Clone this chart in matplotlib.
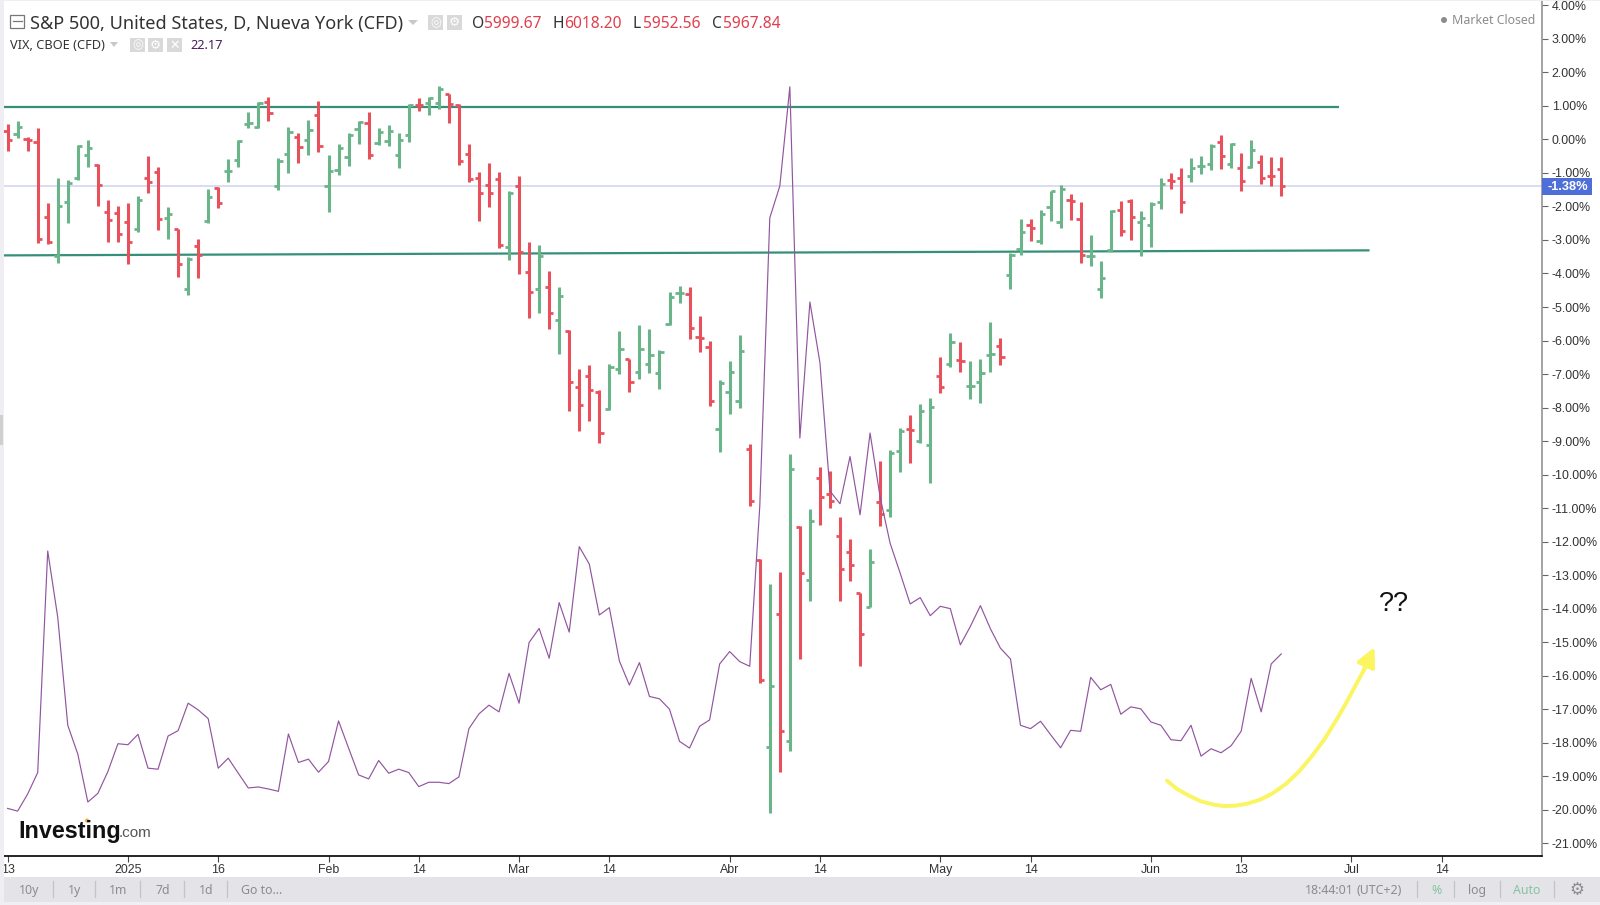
import numpy as np
import matplotlib
matplotlib.use("Agg")
import matplotlib.pyplot as plt
from matplotlib.patches import Rectangle, Polygon, Circle

# daily bars in percent
open_vals = [0.26, 0.16, 0.00, -0.09, -2.30, -3.47, -1.87, -1.15, -0.46, -0.75,
             -2.17, -2.20, -2.47, -2.67, -1.16, -0.98, -2.34, -2.68, -4.47, -3.19,
             -2.44, -1.46, -0.94, -0.62, 0.45, 0.38, 1.11, -1.39, -0.43, 0.06,
             -0.03, 0.73, -1.39, -0.91, -0.53, 0.32, 0.49, -0.11, -0.05, -0.47,
             0.13, 1.03, 1.10, 1.08, 1.36, 1.04, -0.43, -1.16, -1.36, -1.18,
             -3.22, -1.39, -3.97, -4.47, -4.39, -5.38, -5.71, -7.39, -7.07, -7.55,
             -8.05, -6.86, -6.56, -6.94, -6.71, -6.98, -5.51, -4.57, -4.62, -5.89,
             -6.18, -8.65, -7.53, -7.79, -9.24, -12.55, -18.13, -14.15, -17.94, -11.55,
             -13.14, -10.09, -10.58, -11.83, -12.32, -13.53, -13.94, -10.83, -11.07, -9.29,
             -8.65, -9.00, -9.12, -7.07, -6.71, -6.58, -7.36, -7.23, -6.42, -6.15,
             -4.04, -3.28, -2.56, -3.02, -2.03, -2.46, -1.80, -2.36, -3.47, -4.46,
             -3.30, -2.12, -1.83, -2.47, -2.56, -1.87, -1.22, -1.14, -1.09, -0.79,
             -0.72, -0.07, -0.73, -0.86, -0.83, -0.67, -1.08, -0.89]
high_vals = [0.46, 0.56, 0.08, 0.33, -1.90, -1.16, -1.21, -0.16, -0.03, -0.73,
             -1.81, -2.00, -1.90, -1.68, -0.49, -0.83, -2.03, -2.67, -3.52, -2.97,
             -1.48, -1.41, -0.59, -0.01, 0.81, 1.11, 1.28, -0.56, 0.38, 0.18,
             0.58, 1.15, -0.46, -0.14, 0.18, 0.55, 0.81, 0.35, 0.42, 0.18,
             1.06, 1.25, 1.28, 1.58, 1.37, 1.05, -0.14, -0.96, -0.69, -0.96,
             -1.53, -1.09, -3.07, -3.15, -3.94, -4.41, -5.70, -6.84, -6.74, -7.47,
             -6.71, -5.72, -6.55, -5.53, -5.66, -6.28, -4.54, -4.37, -4.41, -5.26,
             -6.02, -7.18, -6.61, -5.85, -9.10, -12.53, -13.26, -12.91, -9.39, -11.53,
             -11.03, -9.76, -9.89, -11.27, -11.93, -13.52, -12.23, -9.59, -9.28, -8.62,
             -8.21, -7.89, -7.72, -6.48, -5.78, -6.05, -6.60, -6.54, -5.46, -5.92,
             -3.38, -2.37, -2.37, -2.10, -1.53, -1.35, -1.63, -1.87, -2.86, -3.64,
             -2.12, -1.84, -1.79, -2.14, -1.87, -1.16, -0.99, -0.86, -0.56, -0.49,
             -0.13, 0.12, -0.12, -0.40, -0.01, -0.46, -0.53, -0.53]
low_vals = [-0.34, 0.05, -0.34, -3.10, -3.13, -3.69, -2.50, -1.21, -0.81, -2.00,
            -3.07, -3.07, -3.72, -2.75, -1.59, -2.70, -2.97, -4.09, -4.64, -4.12,
            -2.48, -2.05, -1.26, -0.81, 0.35, 0.33, 0.55, -1.52, -0.99, -0.69,
            -0.47, -0.39, -2.17, -1.06, -0.80, -0.14, -0.59, -0.16, -0.19, -0.86,
            -0.07, 0.85, 0.72, 0.90, 0.48, -0.77, -1.28, -2.44, -2.02, -3.23,
            -3.60, -4.01, -5.34, -5.17, -5.66, -6.41, -8.09, -8.69, -8.39, -9.06,
            -8.07, -7.01, -7.53, -7.14, -6.98, -7.46, -5.53, -4.88, -5.95, -6.35,
            -7.96, -9.34, -8.19, -8.00, -10.95, -16.23, -20.10, -18.86, -18.24, -15.51,
            -13.78, -11.51, -11.01, -13.78, -13.18, -15.71, -13.96, -11.53, -11.27, -9.91,
            -9.66, -9.06, -10.26, -7.56, -6.80, -6.94, -7.73, -7.87, -6.95, -6.73,
            -4.45, -3.45, -3.03, -3.13, -2.44, -2.64, -2.40, -3.69, -3.79, -4.74,
            -3.35, -2.87, -3.00, -3.49, -3.20, -2.08, -1.49, -2.20, -1.26, -1.03,
            -0.90, -0.87, -0.86, -1.53, -0.86, -1.33, -1.39, -1.70]
close_vals = [-0.03, 0.38, -0.03, -2.98, -3.07, -2.00, -1.31, -0.19, -0.26, -1.35,
              -2.40, -2.83, -3.07, -1.81, -1.28, -2.36, -2.24, -3.71, -3.56, -3.46,
              -1.72, -1.91, -0.94, -0.05, 0.50, 1.08, 0.79, -0.64, 0.23, -0.24,
              0.28, -0.21, -0.95, -0.26, 0.13, 0.51, -0.47, 0.23, 0.26, -0.03,
              1.03, 1.02, 1.24, 1.51, 1.06, -0.63, -1.17, -1.61, -1.61, -3.16,
              -1.61, -3.37, -4.54, -3.47, -5.19, -4.66, -7.23, -7.92, -7.49, -8.77,
              -6.78, -6.25, -7.24, -6.25, -6.44, -6.33, -4.69, -4.57, -5.63, -5.91,
              -7.79, -7.27, -6.94, -6.31, -10.80, -16.13, -16.32, -17.64, -9.83, -12.94,
              -11.37, -10.68, -10.80, -12.81, -12.71, -14.75, -12.61, -11.17, -9.36, -8.70,
              -8.66, -8.11, -7.99, -7.39, -6.05, -6.62, -7.36, -6.97, -6.41, -6.50,
              -3.45, -2.77, -2.63, -2.22, -1.54, -1.48, -1.83, -3.45, -3.47, -4.14,
              -2.15, -2.73, -2.32, -2.33, -1.92, -1.34, -1.24, -1.87, -0.86, -0.79,
              -0.21, -0.49, -0.13, -1.24, -0.33, -1.15, -1.09, -1.38]

# VIX line on the same percent axis
vix_vals = [-19.96, -20.04, -19.53, -18.89, -12.28, -14.26, -17.48, -18.34, -19.77, -19.51,
            -18.86, -18.03, -18.06, -17.75, -18.76, -18.79, -17.80, -17.64, -16.82, -17.02,
            -17.28, -18.76, -18.46, -18.91, -19.35, -19.32, -19.38, -19.45, -17.74, -18.59,
            -18.49, -18.88, -18.56, -17.35, -18.16, -18.96, -19.08, -18.53, -18.91, -18.79,
            -18.89, -19.31, -19.18, -19.18, -19.22, -19.02, -17.58, -17.14, -16.88, -17.08,
            -15.93, -16.82, -15.01, -14.59, -15.48, -13.82, -14.70, -12.15, -12.67, -14.19,
            -13.97, -15.56, -16.28, -15.61, -16.62, -16.69, -17.00, -17.96, -18.16, -17.51,
            -17.32, -15.65, -15.28, -15.58, -15.72, -10.95, -2.34, -1.39, 1.57, -8.91,
            -4.85, -6.66, -10.49, -10.87, -9.46, -11.20, -8.76, -10.67, -12.05, -12.94,
            -13.86, -13.67, -14.21, -13.93, -14.00, -15.08, -14.53, -13.91, -14.60, -15.18,
            -15.50, -17.48, -17.58, -17.36, -17.76, -18.15, -17.63, -17.66, -16.05, -16.42,
            -16.26, -17.15, -16.93, -16.99, -17.38, -17.48, -17.91, -17.94, -17.48, -18.40,
            -18.18, -18.30, -18.09, -17.66, -16.08, -17.08, -15.65, -15.35]

# horizontal levels drawn on the chart
upper_x = [-0.36, 132.8]
upper_y = [0.98, 0.98]
lower_x = [-0.36, 135.8]
lower_y = [-3.46, -3.31]

# hand drawn yellow arrow
arrow_x = [115.6, 116.6, 117.8, 119.0, 120.3, 121.3, 122.4, 123.6, 124.9, 126.2, 127.5,
           128.8, 130.0, 131.3, 132.5, 133.5, 134.5, 135.2]
arrow_y = [-19.13, -19.38, -19.58, -19.75, -19.85, -19.89, -19.88, -19.82, -19.70, -19.50, -19.22,
           -18.85, -18.42, -17.90, -17.32, -16.80, -16.24, -15.85]
arrow_tip = (136.3, -15.15)

last_pct = -1.38
x_tick_pos = [0, 12, 21, 32, 41, 51, 60, 72, 81, 93, 102, 114, 123, 134, 143]
x_tick_labels = ["13", "2025", "16", "Feb", "14", "Mar", "14", "Abr", "14", "May", "14", "Jun", "13", "Jul", "14"]
y_tick_vals = list(range(-21, 5))

W, H = 1600, 905
GREEN = "#6ab48a"
RED = "#e8505b"
PURPLE = "#91559f"
LEVEL = "#35907a"
GREY = "#8c8c8c"
SANS = ["Liberation Sans", "DejaVu Sans"]
HEAD = ["Noto Sans", "DejaVu Sans"]

fig = plt.figure(figsize=(W / 100, H / 100), dpi=100, facecolor="white")

# main axes placed in pixels: left 4, right 1542, top 1, bottom 856
ax = fig.add_axes([4 / W, 1 - 856 / H, 1538 / W, 855 / H])
ax.set_xlim(-0.36, 153.0)
ax.set_ylim(-21.38, 4.13)
for side in ["top", "left"]:
    ax.spines[side].set_visible(False)
ax.spines["right"].set_color("#8a8a8a")
ax.spines["right"].set_linewidth(1.1)
ax.spines["bottom"].set_color("black")
ax.spines["bottom"].set_linewidth(1.2)

ax.yaxis.tick_right()
ax.set_yticks(y_tick_vals)
ax.set_yticklabels([f"{v}.00%" for v in y_tick_vals], fontsize=8.9, family=SANS, color="#333333")
ax.tick_params(axis="y", length=4, width=0.8, color="#666666", pad=3)
ax.set_xticks(x_tick_pos)
ax.set_xticklabels(x_tick_labels, fontsize=8.9, family=SANS, color="#333333")
ax.tick_params(axis="x", length=4, width=0.8, color="#444444", pad=1.5)

# last price line
ax.axhline(last_pct, color="#d3d7ec", lw=1.2, zorder=1)

ax.plot(upper_x, upper_y, color=LEVEL, lw=1.6, zorder=2, solid_capstyle="butt")
ax.plot(lower_x, lower_y, color=LEVEL, lw=1.6, zorder=2, solid_capstyle="butt")

# OHLC bars
idx = np.arange(len(open_vals))
opens = np.array(open_vals)
highs = np.array(high_vals)
lows = np.array(low_vals)
closes = np.array(close_vals)
up = closes >= opens
tick = 0.42
for mask, col in [(up, GREEN), (~up, RED)]:
    ax.vlines(idx[mask], lows[mask], highs[mask], color=col, lw=2.2, zorder=3)
    ax.hlines(opens[mask], idx[mask] - tick, idx[mask], color=col, lw=2.0, zorder=3)
    ax.hlines(closes[mask], idx[mask], idx[mask] + tick, color=col, lw=2.0, zorder=3)

ax.plot(idx, vix_vals, color=PURPLE, lw=0.85, zorder=4)

# yellow arrow and question marks
ax.plot(arrow_x, arrow_y, color="#faf560", lw=2.8, zorder=5, solid_capstyle="round")
ax.annotate("", xy=arrow_tip, xytext=(arrow_x[-1], arrow_y[-1]), zorder=5,
            arrowprops=dict(arrowstyle="-|>", mutation_scale=28, color="#faf560", lw=3, shrinkA=0, shrinkB=0))
ax.text(138.2, -13.87, "??", fontsize=19.5, family=SANS, color="#111111", ha="center", va="center", zorder=5)


# everything below is chart furniture, drawn in pixel coordinates on a full overlay
ui = fig.add_axes([0, 0, 1, 1], facecolor="none")
ui.set_xlim(0, W)
ui.set_ylim(H, 0)
ui.axis("off")

# edges and toolbar
ui.add_patch(Rectangle((0, 0), 3.5, H, color="#eeeef3", lw=0))
ui.add_patch(Rectangle((0, 0), W, 1.5, color="#eeeef3", lw=0))
ui.add_patch(Rectangle((0, 415), 3, 30, color="#cfcfcf", lw=0))
ui.add_patch(Rectangle((4, 877), W - 4, 25, color="#e4e4e8", lw=0))
ui.add_patch(Rectangle((0, 902), W, 3, color="#f0f0f4", lw=0))

for name, cx in [("10y", 29), ("1y", 74.5), ("1m", 118), ("7d", 163), ("1d", 206)]:
    ui.text(cx, 890.5, name, fontsize=8.9, family=HEAD, color=GREY, ha="center", va="center")
ui.text(241, 890.5, "Go to...", fontsize=8.9, family=HEAD, color=GREY, ha="left", va="center")
for sx in [53, 94.5, 140, 184, 226.5, 1417, 1454, 1500, 1554]:
    ui.plot([sx, sx], [881, 897], color="#c4c4c8", lw=0.9)
ui.text(1305, 890.5, "18:44:01", fontsize=8.9, family=HEAD, weight="bold", color=GREY, ha="left", va="center")
ui.text(1402, 890.5, "(UTC+2)", fontsize=8.9, family=HEAD, color=GREY, ha="right", va="center")
ui.text(1436, 890.5, "%", fontsize=8.9, family=HEAD, weight="bold", color="#86c3a0", ha="center", va="center")
ui.text(1477, 890.5, "log", fontsize=8.9, family=HEAD, color=GREY, ha="center", va="center")
ui.text(1527, 890.5, "Auto", fontsize=8.9, family=HEAD, weight="bold", color="#86c3a0", ha="center", va="center")
ui.text(1577, 889.5, "\u2699", fontsize=12, family="DejaVu Sans", color=GREY, ha="center", va="center")

# header rows
ui.add_patch(Rectangle((10, 15), 14, 13, fill=False, ec="#777777", lw=0.9))
ui.plot([12.5, 21.5], [21.5, 21.5], color="#777777", lw=0.9)
ui.text(30, 24, "S&P 500, United States, D, Nueva York (CFD)", fontsize=13.0, family=HEAD,
        color="#333333", ha="left", va="center")
ui.add_patch(Polygon([[408, 20], [418, 20], [413, 25]], color="#c8c8c8", lw=0))
for bx, glyph in [(428, "\u25ce"), (447, "\u2699")]:
    ui.add_patch(Rectangle((bx, 15), 15, 15, color="#d9d9d9", lw=0))
    ui.text(bx + 7.5, 22.5, glyph, fontsize=9, family="DejaVu Sans", color="white", ha="center", va="center")
for lx, ltxt, vx, vtxt in [(472, "O", 484, "5999.67"), (552, "H", 564, "6018.20"),
                           (633, "L", 643, "5952.56"), (712, "C", 723, "5967.84")]:
    ui.text(lx, 24, ltxt, fontsize=11.2, family=HEAD, color="#333333", ha="left", va="center")
    ui.text(vx, 24, vtxt, fontsize=11.2, family=HEAD, color="#e0404e", ha="left", va="center")

ui.text(9.5, 45.5, "VIX, CBOE (CFD)", fontsize=9.2, family=HEAD, color="#333333", ha="left", va="center")
ui.add_patch(Polygon([[110, 42], [118, 42], [114, 47]], color="#c8c8c8", lw=0))
for bx, glyph in [(130, "\u25ce"), (148, "\u2699"), (167, "\u2715")]:
    ui.add_patch(Rectangle((bx, 38), 15, 14, color="#d9d9d9", lw=0))
    ui.text(bx + 7.5, 45, glyph, fontsize=9, family="DejaVu Sans", color="white", ha="center", va="center")
ui.text(190, 45.5, "22.17", fontsize=9.2, family=HEAD, color="#4a1a5e", ha="left", va="center")

# market status
ui.add_patch(Circle((1444, 20), 3, color=GREY, lw=0))
ui.text(1535, 21, "Market Closed", fontsize=8.9, family=HEAD, color=GREY, ha="right", va="center")

# last value label
ui.add_patch(Rectangle((1542, 178), 50, 17, color="#4f6fd8", lw=0, zorder=6))
ui.text(1588, 186.5, "-1.38%", fontsize=9.2, family=SANS, weight="bold", color="white",
        ha="right", va="center", zorder=7)

# logo
ui.text(18, 831, "Investing", fontsize=16.8, family=SANS, weight="bold", color="#111111", ha="left", va="center")
ui.add_patch(Circle((87, 820.5), 2, color="#f0b040", lw=0))
ui.text(119, 832.5, ".com", fontsize=11, family=SANS, color="#555555", ha="left", va="center")

fig.savefig("out.png", dpi=100)
